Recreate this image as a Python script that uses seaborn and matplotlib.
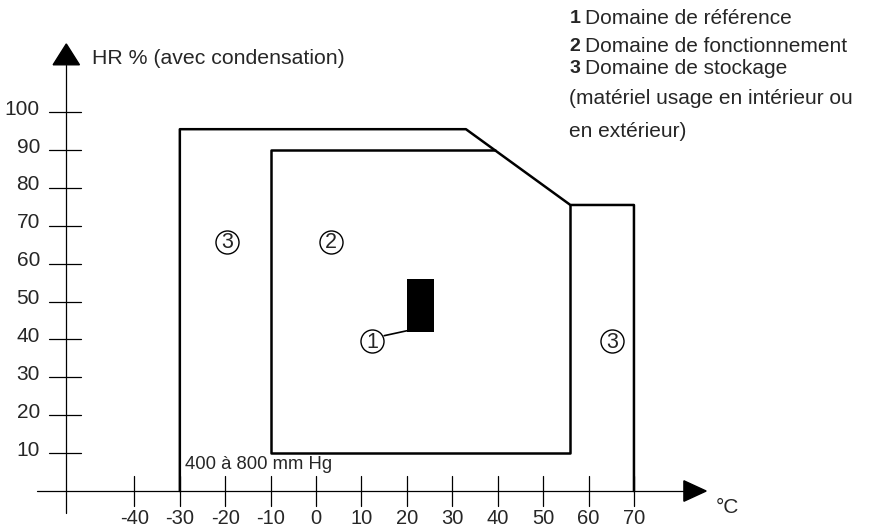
import numpy as np
import pandas as pd
import seaborn as sns
import matplotlib.pyplot as plt

# axis ticks
x_ticks = [-40, -30, -20, -10, 0, 10, 20, 30, 40, 50, 60, 70]
y_ticks = [10, 20, 30, 40, 50, 60, 70, 80, 90, 100]

# storage domain (3) outline
storage_x = [-30, -30, 33, 56, 70, 70]
storage_y = [0, 95.5, 95.5, 75.5, 75.5, 0]

# operating domain (2) outline (top edge ends on the diagonal)
operating_x = [39.5, -10, -10, 56, 56]
operating_y = [90, 90, 10, 10, 75.5]

# reference domain (1) block
ref_x = [20, 26]
ref_y = [42, 56]

# circled labels
circ_labels = ['1', '2', '3', '3']
circ_x = [12.3, 3.3, -19.6, 65.2]
circ_y = [39.6, 65.8, 65.8, 39.6]

legend_nums = ['1', '2', '3']
legend_text = ['Domaine de référence', 'Domaine de fonctionnement',
               'Domaine de stockage']
legend_extra = ['(matériel usage en intérieur ou', 'en extérieur)']

sns.set_theme(style='white')
plt.rcParams['font.family'] = ['Liberation Sans', 'DejaVu Sans']

fig = plt.figure(figsize=(8.76, 5.28), dpi=100)
ax = fig.add_axes([0, 0, 1, 1])
ax.set_xlim(-69.6, 123.3)
ax.set_ylim(-9.76, 129.6)
ax.axis('off')

# axes lines
x_axis_end, y_axis_end = 81, 112.5
ax.plot([-61.5, x_axis_end], [0, 0], color='black', lw=0.9)
ax.plot([-55, -55], [-5.8, y_axis_end], color='black', lw=0.9)
ax.fill([x_axis_end, x_axis_end, x_axis_end + 4.9], [-2.7, 2.7, 0], color='black')
ax.fill([-57.9, -52.1, -55], [y_axis_end, y_axis_end, y_axis_end + 5.5], color='black')

# ticks
for xv in x_ticks:
    ax.plot([xv, xv], [-4, 4], color='black', lw=0.9)
    ax.text(xv, -7.3, str(xv), ha='center', va='center', fontsize=14.5)
for yv in y_ticks:
    ax.plot([-58.8, -51.7], [yv, yv], color='black', lw=0.9)
    ax.text(-60.8, yv + 0.8, str(yv), ha='right', va='center', fontsize=15)

ax.text(-49.4, 114.2, 'HR % (avec condensation)', ha='left', va='center', fontsize=15.3)
ax.text(88.1, -4.4, '°C', ha='left', va='center', fontsize=15)

# domains
df_storage = pd.DataFrame({'x': storage_x, 'y': storage_y})
df_oper = pd.DataFrame({'x': operating_x, 'y': operating_y})
sns.lineplot(data=df_storage, x='x', y='y', sort=False, estimator=None,
             color='black', lw=1.8, ax=ax)
sns.lineplot(data=df_oper, x='x', y='y', sort=False, estimator=None,
             color='black', lw=1.8, ax=ax)
ax.fill_between(ref_x, ref_y[0], ref_y[1], color='black', lw=0)

# leader from circle 1 to reference block
ax.plot([15.0, ref_x[0]], [41.0, ref_y[0] + 0.3], color='black', lw=1.2)

sns.scatterplot(x=circ_x, y=circ_y, s=275, marker='o', facecolor='white',
                edgecolor='black', linewidth=1.0, ax=ax, zorder=5)
for lab, cx, cy in zip(circ_labels, circ_x, circ_y):
    ax.text(cx, cy - 0.3, lab, ha='center', va='center', fontsize=15.5, zorder=6)

ax.text(-28.8, 6.9, '400 à 800 mm Hg', ha='left', va='center', fontsize=13.3)

# legend block
leg_y = [124.6, 117.4, 111.4]
for num, txt, ly in zip(legend_nums, legend_text, leg_y):
    ax.text(55.8, ly, num, ha='left', va='center', fontsize=14, fontweight='bold')
    ax.text(59.2, ly, txt, ha='left', va='center', fontsize=15)
ax.text(55.8, 103.5, legend_extra[0], ha='left', va='center', fontsize=15)
ax.text(55.8, 94.8, legend_extra[1], ha='left', va='center', fontsize=15)

fig.savefig('out.png', dpi=100)
